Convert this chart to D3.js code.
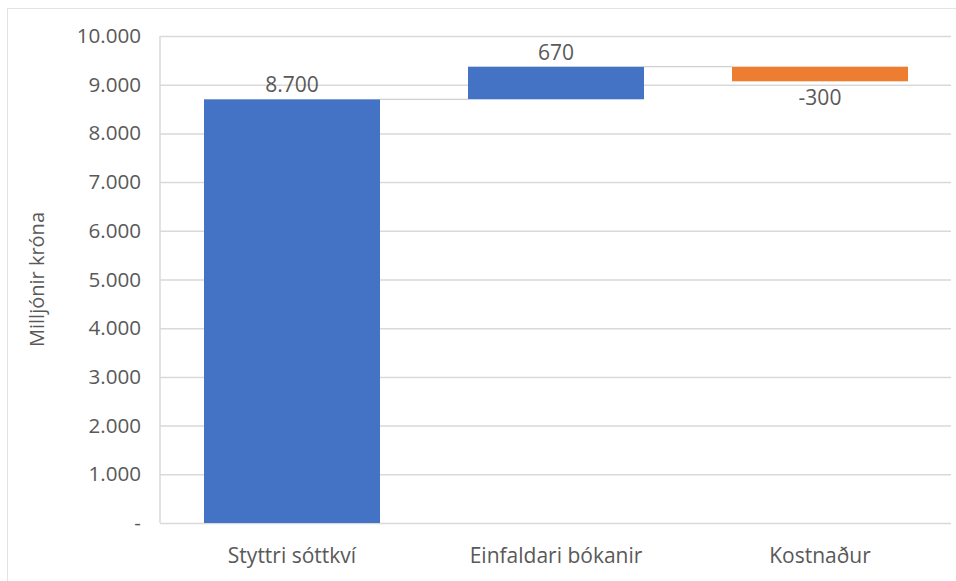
<!DOCTYPE html>
<html>
<head>
<meta charset="utf-8">
<script src="https://cdn.jsdelivr.net/npm/d3@7"></script>
<style>
  html, body { margin: 0; padding: 0; background: #fff; }
  svg { display: block; }
  text { font-family: "Open Sans", "Noto Sans", sans-serif; fill: #595959; }
</style>
</head>
<body>
<svg id="chart" width="956" height="581"></svg>
<script>
// Waterfall: starting effect, an extra gain and a cost
const categories = ["Styttri sóttkví", "Einfaldari bókanir", "Kostnaður"];
const changes = [8700, 670, -300];
const yTicks = [0, 1000, 2000, 3000, 4000, 5000, 6000, 7000, 8000, 9000, 10000];
const yTitle = "Milljónir króna";

const W = 956, H = 581;
const margin = { left: 160, right: 4, top: 36, bottom: 58 };

const svg = d3.select("#chart");

// chart area frame
svg.append("rect")
  .attr("x", 7.5).attr("y", 8.5)
  .attr("width", W + 10).attr("height", H + 10)
  .attr("fill", "none").attr("stroke", "#e3e3e3").attr("stroke-width", 1);

const x = d3.scaleBand()
  .domain(categories)
  .range([margin.left, W - margin.right])
  .paddingInner(1 / 3).paddingOuter(1 / 6);

const y = d3.scaleLinear()
  .domain([0, 10000])
  .range([H - margin.bottom, margin.top]);

// running totals give each bar its start and end
let run = 0;
const steps = categories.map((c, i) => {
  const start = run;
  run += changes[i];
  return { cat: c, value: changes[i], start, end: run };
});

// Icelandic style: dot as thousands separator, hyphen for negatives, dash for zero
const fmt = v => v === 0 ? "-" : d3.format(",")(v).replace(/,/g, ".").replace("\u2212", "-");

// gridlines
const grid = svg.append("g")
  .attr("transform", `translate(${margin.left},0)`)
  .call(d3.axisLeft(y).tickValues(yTicks).tickSize(-(W - margin.right - margin.left - 1)).tickFormat(""));
grid.select(".domain").remove();
grid.selectAll("line").attr("stroke", "#d9d9d9").attr("stroke-width", 1.5);

// vertical axis line
svg.append("line")
  .attr("x1", margin.left).attr("x2", margin.left)
  .attr("y1", y(10000)).attr("y2", y(0))
  .attr("stroke", "#d9d9d9").attr("stroke-width", 1.5);

// y tick labels
const yAxis = svg.append("g")
  .attr("transform", `translate(${margin.left - 19},0)`)
  .call(d3.axisLeft(y).tickValues(yTicks).tickSize(0).tickPadding(0).tickFormat(fmt));
yAxis.select(".domain").remove();
yAxis.selectAll("text")
  .attr("font-size", 20.6).attr("fill", "#595959")
  .style("font-family", '"Open Sans", sans-serif');

// x category labels
const xAxis = svg.append("g")
  .attr("transform", `translate(0,${y(0)})`)
  .call(d3.axisBottom(x).tickSize(0).tickPadding(25));
xAxis.select(".domain").remove();
xAxis.selectAll("text")
  .attr("font-size", 21).attr("fill", "#595959")
  .style("font-family", '"Open Sans", sans-serif');

// connectors between consecutive bars
svg.append("g").selectAll("line")
  .data(steps.slice(0, -1))
  .join("line")
  .attr("x1", d => x(d.cat) + x.bandwidth())
  .attr("x2", (d, i) => x(categories[i + 1]))
  .attr("y1", d => y(d.end)).attr("y2", d => y(d.end))
  .attr("stroke", "#d0d0d0").attr("stroke-width", 1.2);

// bars
svg.append("g").selectAll("rect")
  .data(steps)
  .join("rect")
  .attr("x", d => x(d.cat))
  .attr("width", x.bandwidth())
  .attr("y", d => y(Math.max(d.start, d.end)))
  .attr("height", d => Math.abs(y(d.start) - y(d.end)))
  .attr("fill", d => d.value >= 0 ? "#4472C4" : "#ED7D31");

// value labels: above rising bars, below falling ones
svg.append("g").selectAll("text")
  .data(steps)
  .join("text")
  .attr("x", d => x(d.cat) + x.bandwidth() / 2)
  .attr("y", d => d.value >= 0 ? y(d.end) - 7 : y(d.end) + 24)
  .attr("text-anchor", "middle")
  .attr("font-size", 21)
  .text(d => fmt(d.value));

// y axis title
svg.append("text")
  .attr("transform", `translate(44,${(y(0) + y(10000)) / 2}) rotate(-90)`)
  .attr("text-anchor", "middle")
  .attr("font-size", 20)
  .text(yTitle);
</script>
</body>
</html>
